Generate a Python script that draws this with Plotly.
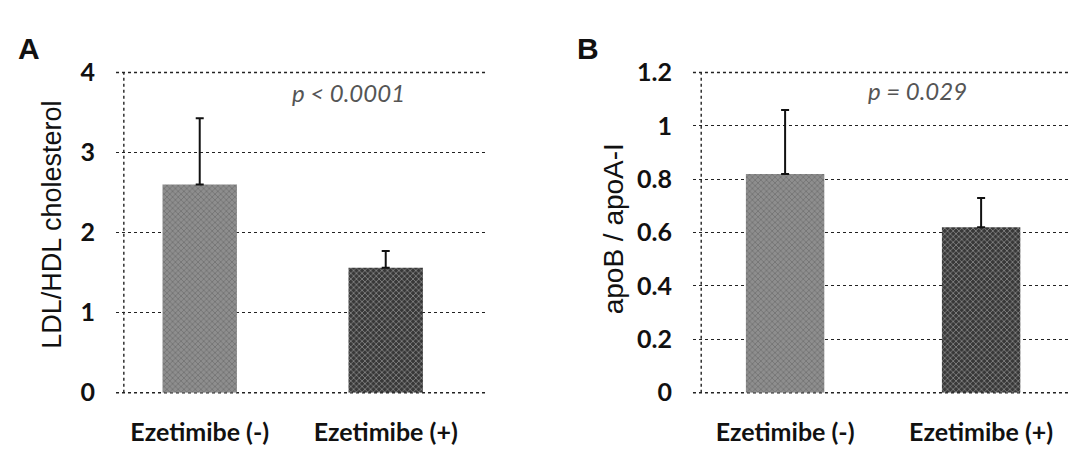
import plotly.graph_objects as go

categories = ["Ezetimibe (-)", "Ezetimibe (+)"]
ldl_hdl = [2.60, 1.56]
ldl_hdl_sd = [0.83, 0.21]
apob_apoa = [0.82, 0.62]
apob_apoa_sd = [0.24, 0.11]
ticks_a = [0, 1, 2, 3, 4]
ticks_b = [0, 0.2, 0.4, 0.6, 0.8, 1, 1.2]
tick_text_b = ["0", "0.2", "0.4", "0.6", "0.8", "1", "1.2"]

bar_color = ["#8e8e8e", "#383838"]
bar_fg = ["#000000", "#000000"]

TICKFONT = dict(family="Lato", size=25, color="#111111", weight="bold")

fig = go.Figure()

for xa, ya, vals, errs in [("x", "y", ldl_hdl, ldl_hdl_sd), ("x2", "y2", apob_apoa, apob_apoa_sd)]:
    fig.add_trace(go.Bar(
        x=categories, y=vals, xaxis=xa, yaxis=ya, width=0.4,
        marker=dict(color=bar_color, line=dict(width=0),
                    pattern=dict(shape="x", fgcolor=bar_fg, size=4, solidity=0.3, fillmode="overlay")),
        error_y=dict(type="data", array=errs, arrayminus=[0, 0], symmetric=False,
                     color="#111111", thickness=2, width=4),
        showlegend=False,
    ))

grid = dict(showgrid=True, gridcolor="#222222", griddash="dot", gridwidth=1.4,
            zeroline=False, showline=False, ticks="", tickfont=TICKFONT)

fig.update_layout(
    width=1077, height=450,
    margin=dict(l=0, r=0, t=0, b=0),
    paper_bgcolor="white", plot_bgcolor="white",
    xaxis=dict(domain=[0.1003, 0.4457], anchor="y", showgrid=False, zeroline=False, showline=False,
               ticks="", tickfont=TICKFONT, ticklabelstandoff=22, range=[-0.45, 1.55]),
    yaxis=dict(domain=[0.1222, 0.8844], anchor="x", range=[0, 4], tickvals=ticks_a,
               ticklabelstandoff=20, **grid),
    xaxis2=dict(domain=[0.636, 1.0], anchor="y2", showgrid=False, zeroline=False, showline=False,
                ticks="", tickfont=TICKFONT, ticklabelstandoff=22, range=[-0.47, 1.53]),
    yaxis2=dict(domain=[0.1222, 0.8844], anchor="x2", range=[0, 1.2], tickvals=ticks_b,
                ticktext=tick_text_b, ticklabelstandoff=20, **grid),
)

line_style = dict(color="#222222", width=1.4, dash="dot")
for xr, yr in [("x domain", "y domain"), ("x2 domain", "y2 domain")]:
    # vertical dotted axis line (slightly inside plot area, as in the original)
    fig.add_shape(type="line", xref=xr, yref=yr, x0=0.021, x1=0.021, y0=0, y1=1,
                  line=line_style, layer="below")
    # bottom and top frame gridlines
    for yv in (0, 1):
        fig.add_shape(type="line", xref=xr, yref=yr, x0=0, x1=1, y0=yv, y1=yv,
                      line=line_style, layer="below")

ann = [
    dict(text="A", x=21, y=26, font=dict(family="Liberation Sans", size=30, color="#111", weight="bold")),
    dict(text="B", x=580, y=26, font=dict(family="Liberation Sans", size=30, color="#111", weight="bold")),
    dict(text="<i>p < 0.0001</i>", x=340, y=73, font=dict(family="Lato", size=24, color="#555")),
    dict(text="<i>p = 0.029</i>", x=909, y=71, font=dict(family="Lato", size=24, color="#555")),
    dict(text="LDL/HDL cholesterol", x=44, y=215, textangle=-90,
         font=dict(family="Liberation Sans", size=27, color="#111")),
    dict(text="apoB / apoA-I", x=605, y=220, textangle=-90,
         font=dict(family="Liberation Sans", size=28, color="#111")),
]
for a in ann:
    fig.add_annotation(xref="paper", yref="paper", x=a["x"] / 1077, y=1 - a["y"] / 450,
                       xanchor="center", yanchor="middle", showarrow=False,
                       text=a["text"], font=a["font"], textangle=a.get("textangle", 0))

fig.write_html("out.html")
